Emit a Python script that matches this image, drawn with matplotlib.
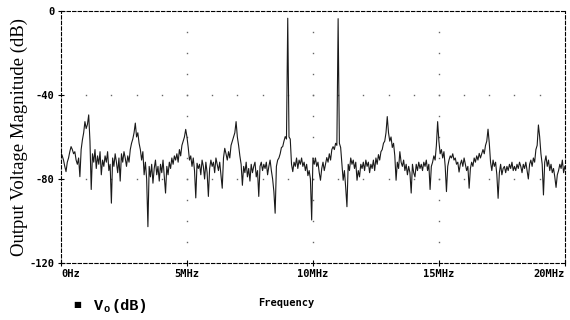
import numpy as np
import matplotlib
matplotlib.use("Agg")
import matplotlib.pyplot as plt

# spectrum, 0.05 MHz steps, one row per MHz
mag_db = [
    -67.5, -69, -71, -74, -76.5, -72, -70, -67, -64.6, -66, -68, -67, -71, -73, -70, -78.9, -66, -61.4, -58, -52.7,
    -56, -54, -49.5, -62, -85, -68, -72, -66, -75, -69, -73, -67, -78, -71, -74, -69, -72, -67, -76, -73,
    -91.5, -70, -74, -68, -72, -77, -70, -81, -68, -72, -67, -70, -74, -69, -72, -66, -63, -61, -58, -53.4,
    -60, -58, -63, -66, -71, -67, -78, -72, -80, -102.7, -74, -79, -73, -82, -75, -71, -78, -74, -81, -73,
    -77, -71, -79, -86.7, -74, -78, -72, -75, -70, -73, -69, -71, -68, -72, -66, -69, -64, -62, -60, -56.4,
    -60, -65, -71, -69, -74, -70, -76, -89, -72.5, -75, -73, -78, -71, -74, -80, -72, -77, -88.3, -75, -71,
    -74, -72, -77, -70, -73, -76, -72, -78, -84.4, -70, -65.4, -68, -71, -67, -70, -64, -62, -60, -58, -52.7,
    -60, -64, -69, -73, -83, -74, -77, -72, -79, -75, -81, -73, -77, -74, -72, -79, -76, -88.3, -74, -72,
    -76, -73, -75, -72, -78, -74, -71, -76, -80, -86, -96.3, -74, -71, -70, -68, -65, -64.6, -62, -59.8, -61,
    -3.5, -60, -61, -73, -76.5, -72, -74, -70, -75, -71, -73, -70, -74, -72, -76, -73, -78.4, -76, -80, -99.5,
    -70, -73, -70, -74, -72, -77, -80.6, -75, -72, -76, -73, -69.8, -72, -68, -71, -66, -64.6, -66, -63, -64,
    -3.7, -63, -65, -73, -80.6, -76, -84, -93.2, -73, -76, -70, -73, -71, -75, -72, -80.6, -76, -79, -73, -75,
    -72, -76, -71, -74, -72, -77, -73, -75, -71, -76, -70, -73, -68.4, -71, -67, -66, -63, -62, -58, -50.3,
    -58, -62, -60, -65, -63, -69, -80.6, -72, -75, -67, -72, -74, -71, -76, -73, -78, -74, -77, -86.7, -73,
    -77, -79, -73, -76, -72, -75, -73, -76, -72, -74, -71, -76, -73, -85, -74, -72, -69, -71, -64, -52.7,
    -62, -68, -66, -70, -67, -74, -86, -74, -71, -69, -70, -68, -71, -70, -73, -72, -76.7, -73, -71, -74,
    -70, -73, -76, -74, -84.4, -75, -72, -74, -70, -72, -69, -71, -67.8, -70, -68, -66, -68, -64, -62, -56.3,
    -63, -72, -76, -71, -74, -72, -78, -89.2, -77, -73, -78, -75, -74, -77, -74, -76, -73, -75, -72, -76,
    -74, -76, -73, -75, -72, -74, -77, -73, -75, -72, -76, -80, -73, -71, -74, -70, -72, -66, -64, -54.3,
    -60, -68, -73, -87.6, -72, -69, -74, -71, -76, -73, -77, -75, -79, -84, -78, -76, -73, -75, -71, -77,
    -74,
]
freq_mhz = np.arange(len(mag_db)) * 0.05

x_ticks = [0, 5, 10, 15, 20]
x_labels = ["0Hz", "5MHz", "10MHz", "15MHz", "20MHz"]
y_ticks = [0, -40, -80, -120]
y_labels = ["0", "-40", "-80", "-120"]

mono = "DejaVu Sans Mono"

fig = plt.figure(figsize=(5.7, 3.2), dpi=100)
ax = fig.add_axes([0.107, 0.178, 0.884, 0.788])

# sparse dotted grid like the PSpice probe window
for gx in [5, 10, 15]:
    ax.plot([gx] * 11, np.arange(-110, 0, 10), ls="none", marker="s", ms=1.0,
            mec="none", mfc="#666666")
for gy in [-40, -80]:
    ax.plot(np.arange(1, 20), [gy] * 19, ls="none", marker="s", ms=1.0,
            mec="none", mfc="#666666")

ax.plot(freq_mhz, mag_db, color="#1a1a1a", lw=0.8)

ax.set_xlim(0, 20)
ax.set_ylim(-120, 0)
ax.set_xticks(x_ticks)
ax.set_xticklabels(x_labels, fontfamily=mono, fontweight="bold", fontsize=7.5)
ax.set_yticks(y_ticks)
ax.set_yticklabels(y_labels, fontfamily=mono, fontweight="bold", fontsize=7.5)
ax.tick_params(direction="inout", length=5, width=0.8, pad=2)
xl = ax.get_xticklabels()
xl[0].set_ha("left")
xl[-1].set_ha("right")

for s in ax.spines.values():
    s.set_linestyle((0, (3, 2)))
    s.set_linewidth(0.8)

ax.set_ylabel("Output Voltage Magnitude (dB)", fontfamily="Liberation Serif",
              fontsize=13.5, labelpad=1)

fig.text(286 / 570, 1 - 303 / 320, "Frequency", fontfamily=mono, fontweight="bold",
         fontsize=7.5, ha="center", va="center")

# legend entry
fig.text(77 / 570, 1 - 305 / 320, "\u25a0", fontsize=6, ha="center", va="center")
fig.text(94 / 570, 1 - 306 / 320, "V", fontfamily="Liberation Mono", fontweight="bold",
         fontsize=11, ha="left", va="center")
fig.text(104 / 570, 1 - 309 / 320, "o", fontfamily="Liberation Mono", fontweight="bold",
         fontsize=7.5, ha="left", va="center")
fig.text(112 / 570, 1 - 306 / 320, "(dB)", fontfamily="Liberation Mono", fontweight="bold",
         fontsize=11, ha="left", va="center")

fig.savefig("out.png", dpi=100)
